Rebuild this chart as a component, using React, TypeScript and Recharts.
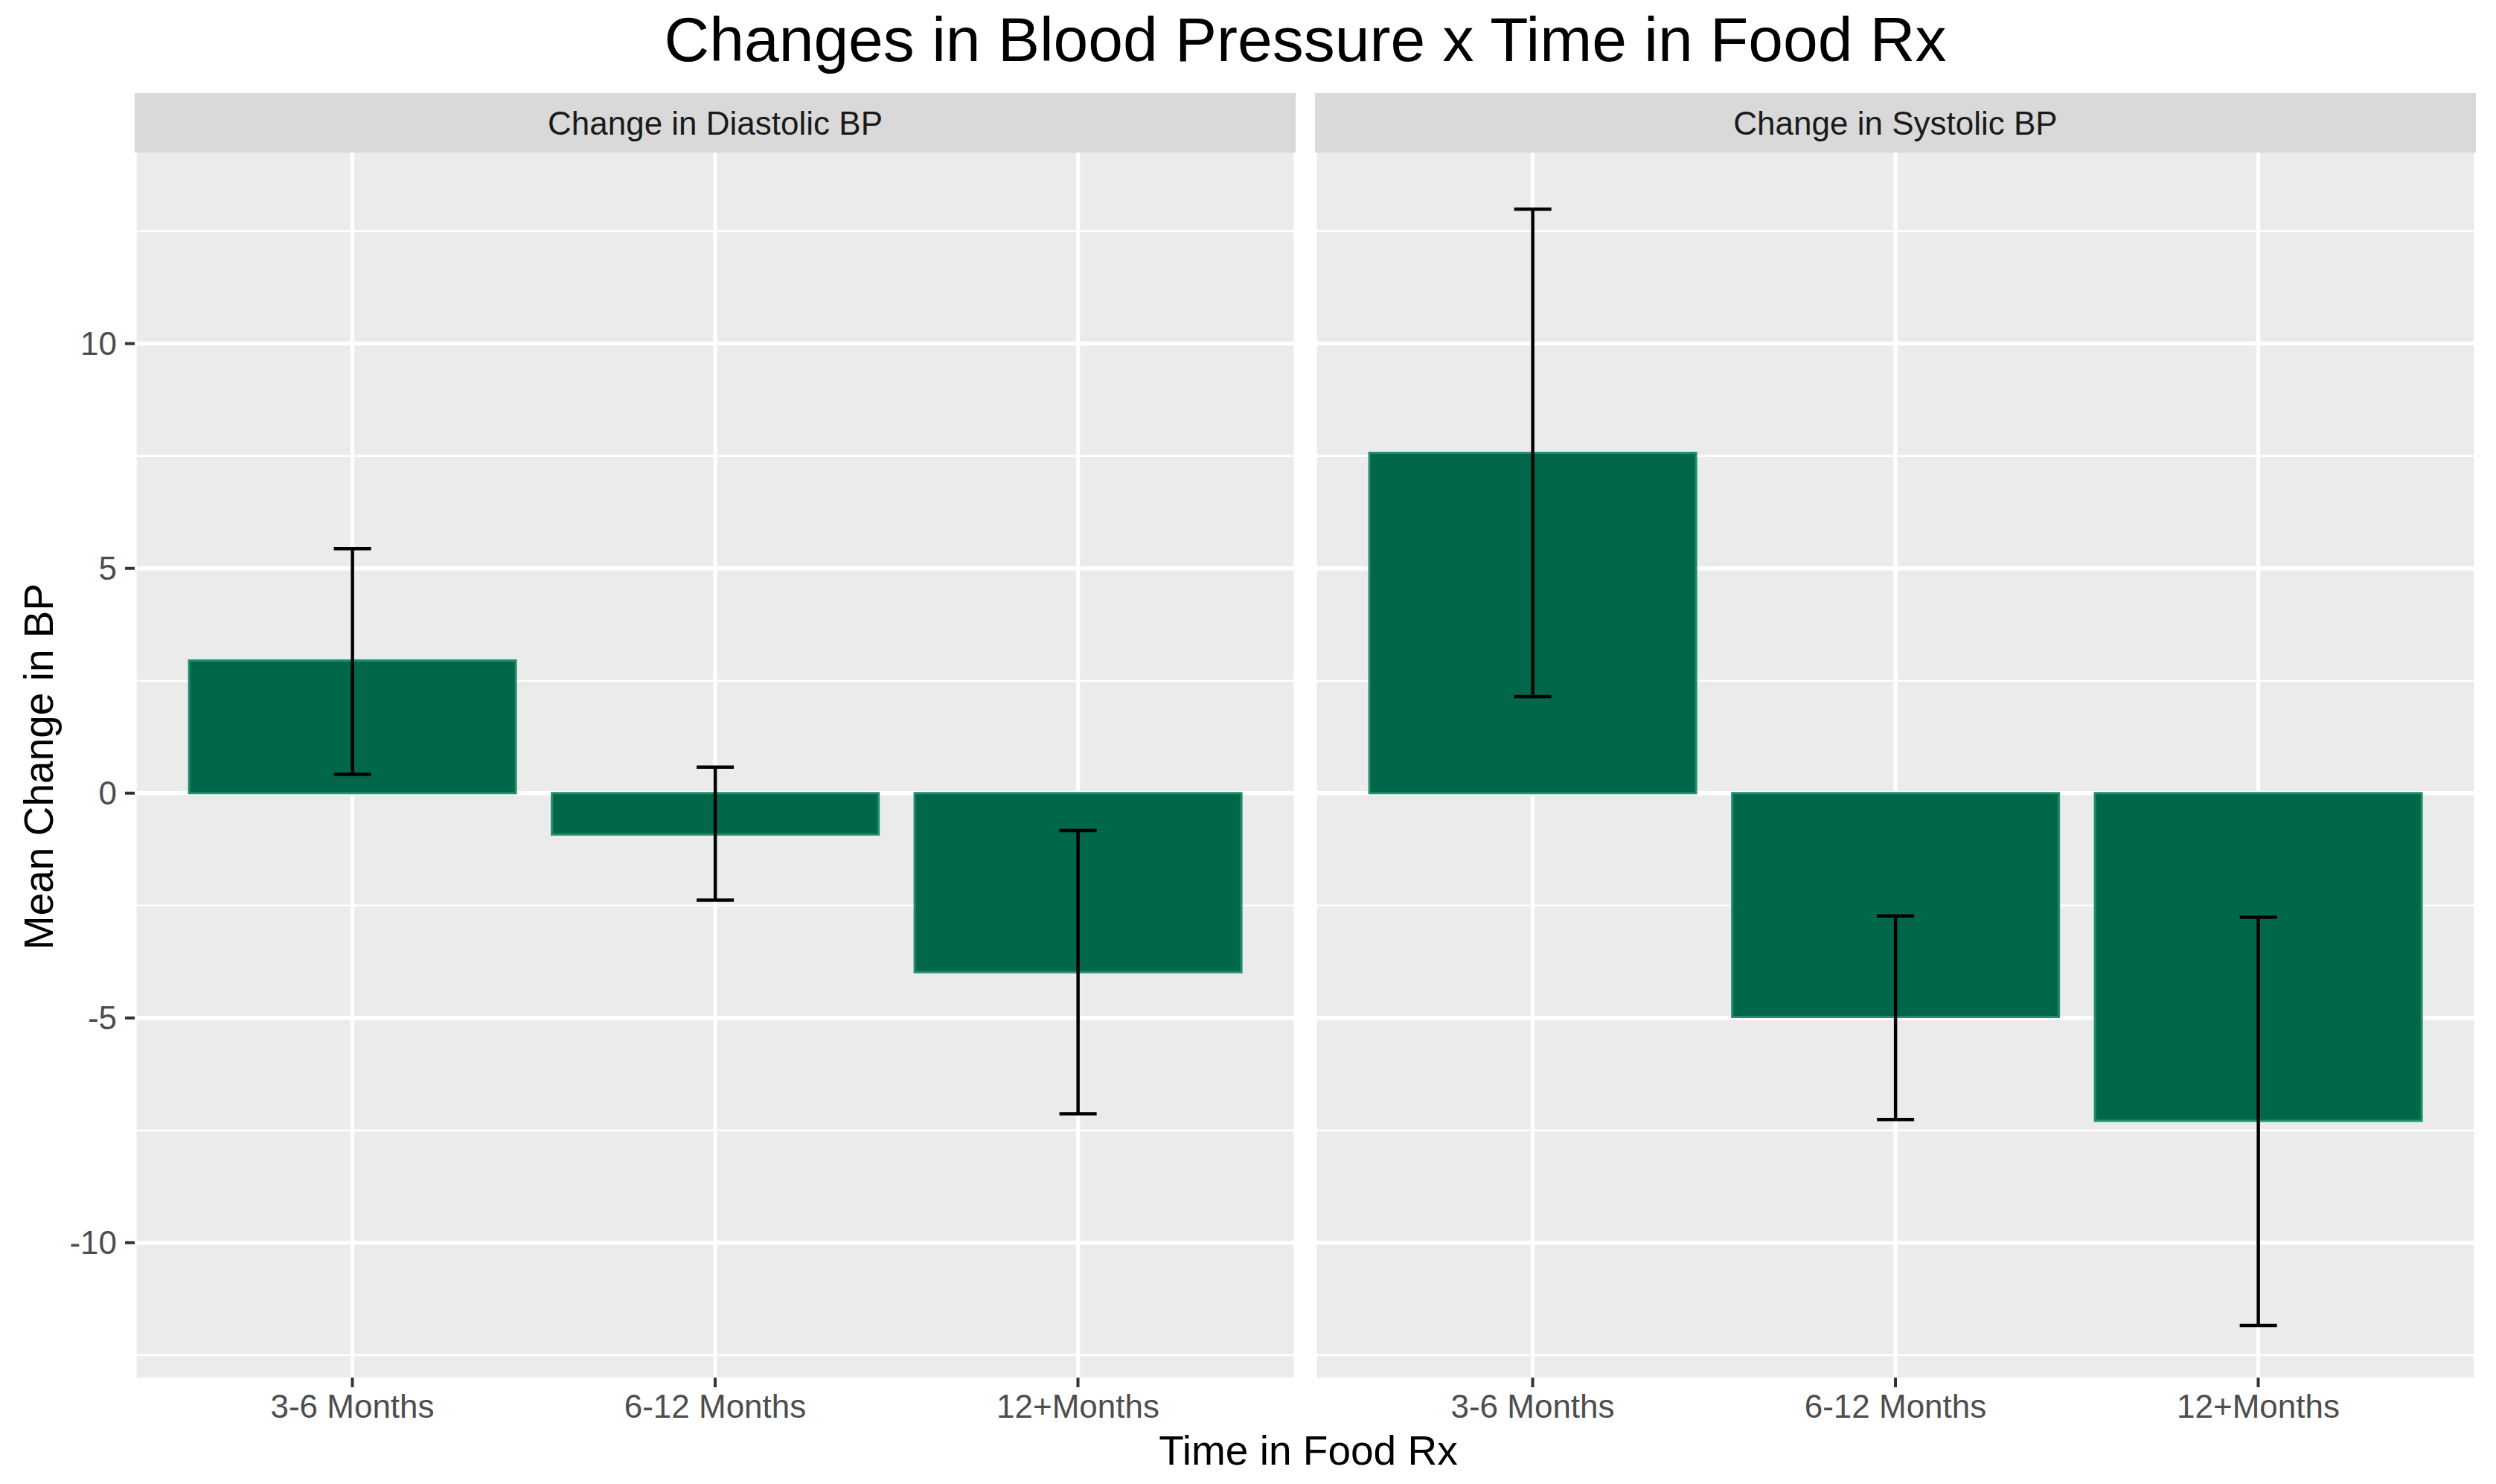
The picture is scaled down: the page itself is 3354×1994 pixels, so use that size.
import React from 'react'
import { BarChart, Bar, XAxis, YAxis, CartesianGrid, ErrorBar } from 'recharts'

// values
const categories = ['3-6 Months', '6-12 Months', '12+Months']

const diastolicMean = [2.95, -0.92, -3.98]
const diastolicLow = [0.42, -2.38, -7.13]
const diastolicHigh = [5.44, 0.58, -0.83]

const systolicMean = [7.57, -4.98, -7.29]
const systolicLow = [2.15, -7.26, -11.84]
const systolicHigh = [12.99, -2.73, -2.76]

const yTicks = [-10, -5, 0, 5, 10]
const yMinor = [-12.5, -7.5, -2.5, 2.5, 7.5, 12.5]
const yDomain = [-13, 14.25]

const FONT = '"Liberation Sans", Arial, Helvetica, sans-serif'
const BAR_FILL = '#00674A'
const BAR_EDGE = '#1F8E6E'
const PANEL_BG = '#EBEBEB'
const STRIP_BG = '#D9D9D9'

const W = 3354
const H = 1994
const PANEL_TOP = 205
const PANEL_BOTTOM = 1851
const LEFT_X = 181
const LEFT_END = 1741
const RIGHT_X = 1767
const RIGHT_END = 3327
// ggplot's 0.6 discrete expansion minus half a band
const X_PAD = 48.75

function buildRows(mean: number[], low: number[], high: number[]) {
  return categories.map((cat, i) => ({
    cat,
    mean: mean[i],
    err: [mean[i] - low[i], high[i] - mean[i]],
  }))
}

const diastolicRows = buildRows(diastolicMean, diastolicLow, diastolicHigh)
const systolicRows = buildRows(systolicMean, systolicLow, systolicHigh)

function Panel({ rows, showY, width }: { rows: any[]; showY: boolean; width: number }) {
  return (
    <BarChart
      width={width}
      height={H}
      data={rows}
      margin={{ top: PANEL_TOP, right: 0, left: 0, bottom: 0 }}
      barCategoryGap="5%"
    >
      {/* minor grid first, ggplot draws it under the majors */}
      <CartesianGrid
        fill={PANEL_BG}
        stroke="#FFFFFF"
        strokeWidth={2.7}
        vertical={false}
        horizontalValues={yMinor}
      />
      <CartesianGrid
        stroke="#FFFFFF"
        strokeWidth={5.3}
        fill="none"
        horizontalValues={yTicks}
      />
      <XAxis
        dataKey="cat"
        type="category"
        interval={0}
        height={H - PANEL_BOTTOM}
        padding={{ left: X_PAD, right: X_PAD }}
        axisLine={false}
        tickSize={13}
        tickMargin={10}
        tickLine={{ stroke: '#333333', strokeWidth: 4 }}
        tick={{ fill: '#4D4D4D', fontSize: 44, fontFamily: FONT }}
      />
      {showY ? (
        <YAxis
          type="number"
          domain={yDomain}
          ticks={yTicks}
          interval={0}
          width={LEFT_X}
          axisLine={false}
          tickSize={13}
          tickMargin={11}
          tickLine={{ stroke: '#333333', strokeWidth: 4 }}
          tick={{ fill: '#4D4D4D', fontSize: 44, fontFamily: FONT }}
        />
      ) : (
        <YAxis type="number" domain={yDomain} ticks={yTicks} hide />
      )}
      <Bar
        dataKey="mean"
        fill={BAR_FILL}
        stroke={BAR_EDGE}
        strokeWidth={3}
        isAnimationActive={false}
      >
        <ErrorBar
          dataKey="err"
          direction="y"
          width={25}
          stroke="#000000"
          strokeWidth={4.5}
          isAnimationActive={false}
        />
      </Bar>
    </BarChart>
  )
}

export default function App() {
  return (
    <div
      style={{
        position: 'absolute',
        left: 0,
        top: 0,
        width: W,
        height: H,
        background: '#FFFFFF',
        fontFamily: FONT,
      }}
    >
      <div style={{ position: 'absolute', left: 0, top: 0 }}>
        <Panel rows={diastolicRows} showY width={LEFT_END} />
      </div>
      <div style={{ position: 'absolute', left: RIGHT_X, top: 0 }}>
        <Panel rows={systolicRows} showY={false} width={RIGHT_END - RIGHT_X} />
      </div>

      {/* title, facet strips and axis titles */}
      <svg
        width={W}
        height={H}
        style={{ position: 'absolute', left: 0, top: 0, pointerEvents: 'none' }}
      >
        <text x={1754} y={82} textAnchor="middle" fontSize={84} fill="#000000" fontFamily={FONT}>
          Changes in Blood Pressure x Time in Food Rx
        </text>

        <rect x={LEFT_X} y={125} width={LEFT_END - LEFT_X} height={PANEL_TOP - 125} fill={STRIP_BG} />
        <text x={(LEFT_X + LEFT_END) / 2} y={181} textAnchor="middle" fontSize={44} fill="#1A1A1A" fontFamily={FONT}>
          Change in Diastolic BP
        </text>

        <rect x={RIGHT_X} y={125} width={RIGHT_END - RIGHT_X} height={PANEL_TOP - 125} fill={STRIP_BG} />
        <text x={(RIGHT_X + RIGHT_END) / 2} y={181} textAnchor="middle" fontSize={44} fill="#1A1A1A" fontFamily={FONT}>
          Change in Systolic BP
        </text>

        <text x={1758} y={1968} textAnchor="middle" fontSize={55} fill="#000000" fontFamily={FONT}>
          Time in Food Rx
        </text>
        <text
          x={71}
          y={1030}
          textAnchor="middle"
          fontSize={55}
          fill="#000000"
          fontFamily={FONT}
          transform="rotate(-90 71 1030)"
        >
          Mean Change in BP
        </text>
      </svg>
    </div>
  )
}
